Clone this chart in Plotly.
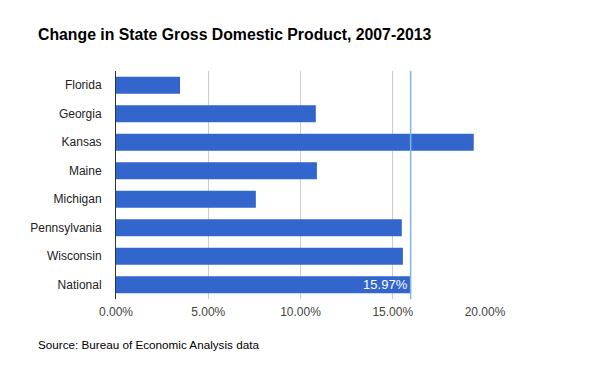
import plotly.graph_objects as go

states = ["Florida", "Georgia", "Kansas", "Maine", "Michigan", "Pennsylvania", "Wisconsin", "National"]
change = [0.0347, 0.1083, 0.1939, 0.1089, 0.0758, 0.1549, 0.1555, 0.1597]
x_ticks = [0, 0.05, 0.10, 0.15, 0.20]
national_value = change[-1]

labels = ["" for _ in states]
labels[-1] = "15.97%"

L, R, T, B = 116, 115, 71, 72
W, H = 600, 371
plot_w = W - L - R
plot_h = H - T - B


def px_to_paper(px, py):
    return (px - L) / plot_w, 1 - (py - T) / plot_h


fig = go.Figure(go.Bar(
    x=change, y=states, orientation="h",
    marker=dict(color="#3366cc", line=dict(width=0)),
    text=labels, textposition="inside", insidetextanchor="end",
    constraintext="none",
    textfont=dict(color="white", size=13, family="Liberation Sans, Arial"),
    cliponaxis=False, hoverinfo="x+y",
))

fig.add_shape(type="line", xref="x", yref="paper", x0=national_value, x1=national_value,
              y0=0, y1=1, line=dict(color="#7ab8ea", width=1.5), layer="above")

tx, ty = px_to_paper(36, 35)
sx, sy = px_to_paper(36, 344)

fig.update_layout(
    width=W, height=H,
    margin=dict(l=L, r=R, t=T, b=B),
    paper_bgcolor="white", plot_bgcolor="white",
    bargap=0.41,
    showlegend=False,
    font=dict(family="Liberation Sans, Arial", size=12, color="#222222"),
    xaxis=dict(range=[0, 0.2], tickvals=x_ticks, tickformat=".2%",
               showgrid=True, gridcolor="#cccccc", gridwidth=1,
               zeroline=False, showline=False, ticks="",
               ticklabelstandoff=4,
               tickfont=dict(size=12, color="#444444")),
    yaxis=dict(autorange="reversed", showgrid=False, showline=True,
               linecolor="#333333", linewidth=1, ticks="", ticklen=0,
               ticklabelstandoff=11,
               tickfont=dict(size=12, color="#222222")),
    annotations=[
        dict(text="<b>Change in State Gross Domestic Product, 2007-2013</b>", x=tx, y=ty,
             xref="paper", yref="paper", showarrow=False, xanchor="left", yanchor="middle",
             font=dict(size=15.8, color="black", family="Liberation Sans, Arial")),
        dict(text="Source: Bureau of Economic Analysis data", x=sx, y=sy,
             xref="paper", yref="paper", showarrow=False, xanchor="left", yanchor="middle",
             font=dict(size=11.7, color="black", family="Liberation Sans, Arial")),
    ],
)

fig.write_html("out.html", config={"displayModeBar": False},
               post_script="document.body.style.margin='0';")
